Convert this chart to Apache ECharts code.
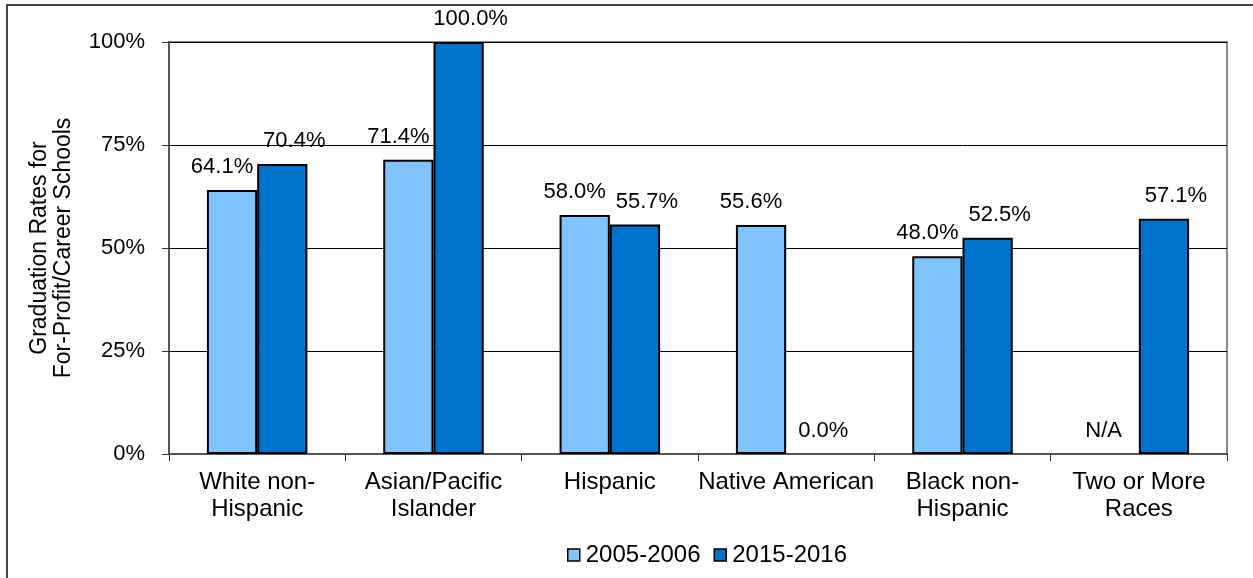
<!DOCTYPE html>
<html><head><meta charset="utf-8">
<script src="https://cdn.jsdelivr.net/npm/echarts@6/dist/echarts.min.js"></script>
<style>html,body{margin:0;padding:0;background:#fff}#c{width:1253px;height:578px}</style>
</head><body><div id="c"></div>
<script>
const categories = ['White non-\nHispanic','Asian/Pacific\nIslander','Hispanic','Native American','Black non-\nHispanic','Two or More\nRaces'];
const seriesNames = ['2005-2006','2015-2016'];
const values2005 = [64.1, 71.4, 58.0, 55.6, 48.0, null];
const values2015 = [70.4, 100.0, 55.7, 0.0, 52.5, 57.1];
const yTicks = [0, 25, 50, 75, 100];

const FONT = '"Liberation Sans", Arial, sans-serif';
function toData(arr){
  return arr.map(v => v === null ? {value:0, na:true, itemStyle:{borderWidth:0}} : (v===0 ? {value:0, itemStyle:{borderWidth:0}} : v));
}
const chart = echarts.init(document.getElementById('c'), null, {renderer:'canvas'});
const labelBase = {show:true, position:'top', distance:12, color:'#000', fontFamily:FONT, fontSize:22};
chart.setOption({
  animation:false,
  textStyle:{fontFamily:FONT},
  graphic:[{type:'rect', shape:{x:7,y:5,width:1280,height:620}, style:{fill:'none', stroke:'#444', lineWidth:2}, z:-1}],
  grid:{left:169, right:26, top:42, bottom:124, show:true, borderColor:'#888', borderWidth:2, backgroundColor:'#fff', containLabel:false, outerBoundsMode:'none'},
  legend:{
    data:seriesNames, top:538, left:562, itemWidth:12, itemHeight:12, itemGap:13,
    textStyle:{fontSize:24, color:'#000', fontFamily:FONT, padding:[0,0,0,1]},
    icon:'rect',
    itemStyle:{borderColor:'#000', borderWidth:1.5}
  },
  xAxis:{
    type:'category', data:categories,
    axisLine:{lineStyle:{color:'#555', width:2}},
    axisTick:{show:true, length:7, lineStyle:{color:'#333'}},
    axisLabel:{color:'#000', fontSize:24, lineHeight:27, margin:15, fontFamily:FONT, interval:0}
  },
  yAxis:{
    type:'value', min:yTicks[0], max:yTicks[yTicks.length-1], interval:25,
    name:'Graduation Rates for\nFor-Profit/Career Schools', nameLocation:'middle', nameGap:93,
    nameTextStyle:{fontSize:23, color:'#000', lineHeight:24, fontFamily:FONT},
    axisLine:{show:true, lineStyle:{color:'#555', width:2}},
    axisTick:{show:true, length:7, lineStyle:{color:'#333'}},
    axisLabel:{color:'#000', fontSize:22, margin:24, formatter:v=>v+'%', fontFamily:FONT},
    splitLine:{lineStyle:{color:'#000', width:1}}
  },
  series:[
    {name:seriesNames[0], type:'bar', data:toData(values2005), barGap:'0%', barCategoryGap:'43%',
     itemStyle:{color:'#80C4FF', borderColor:'#000', borderWidth:2},
     label:Object.assign({}, labelBase, {offset:[-10,0], formatter:p=> p.data && p.data.na ? 'N/A' : p.value.toFixed(1)+'%'})},
    {name:seriesNames[1], type:'bar', data:toData(values2015),
     itemStyle:{color:'#0073CC', borderColor:'#000', borderWidth:2},
     label:Object.assign({}, labelBase, {offset:[12,0], formatter:p=> p.value.toFixed(1)+'%'})}
  ]
});
</script></body></html>
